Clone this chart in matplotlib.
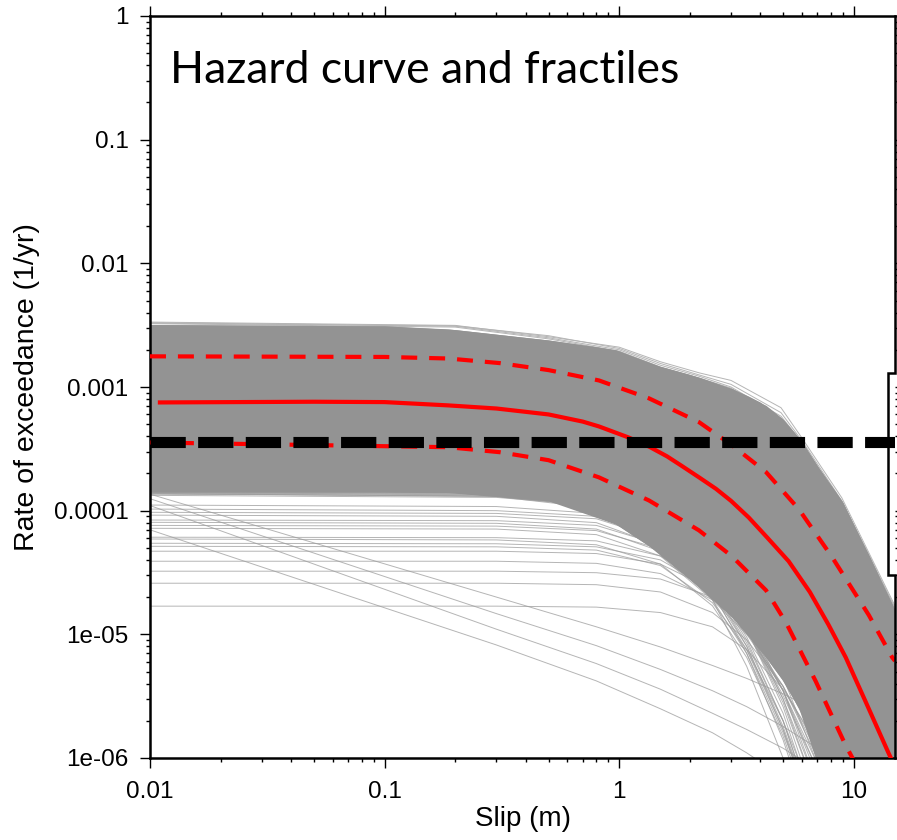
import matplotlib
matplotlib.use("Agg")
import matplotlib.pyplot as plt
from matplotlib.lines import Line2D
from matplotlib.ticker import FixedLocator, NullFormatter

plt.rcParams['lines.scale_dashes'] = False

# ---------------- data ----------------
# dense band of hazard curves (envelope of the many grey curves)
band_x = [0.01, 0.1, 0.187, 0.5, 0.97, 1.34, 2.19, 3.03, 4.23, 4.94, 5.83, 7.0, 8.9, 11.6, 15.0]
band_hi = [3.2e-3, 3.12e-3, 2.95e-3, 2.4e-3, 2.0e-3, 1.55e-3, 1.2e-3, 9.7e-4, 7.1e-4, 5.6e-4,
           3.9e-4, 2.3e-4, 1.2e-4, 4.4e-5, 1.57e-5]
band_lo_x = [0.01, 0.1, 0.2, 0.5, 0.8, 1.0, 1.5, 2.0, 3.0, 3.57, 4.0, 5.0, 6.0, 7.0, 9.0, 15.0]
band_lo = [1.42e-4, 1.42e-4, 1.4e-4, 1.2e-4, 9.6e-5, 7.5e-5, 4.5e-5, 2.8e-5, 1.4e-5, 1.0e-5,
           7.5e-6, 4.2e-6, 2.3e-6, 9e-7, 2e-7, 1e-8]

# outer curves along the upper edge of the band
upper_x = [0.01, 0.2, 0.5, 1.0, 1.5, 2.2, 3.0, 4.9, 6.0, 8.9, 15.0]
upper_curves = [
    [3.35e-3, 3.15e-3, 2.55e-3, 2.1e-3, 1.6e-3, 1.3e-3, 1.13e-3, 6.8e-4, 3.9e-4, 1.27e-4, 1.7e-5],
    [3.31e-3, 3.12e-3, 2.6e-3, 2.05e-3, 1.55e-3, 1.25e-3, 1.05e-3, 6.2e-4, 3.7e-4, 1.2e-4, 1.65e-5],
    [3.28e-3, 3.1e-3, 2.5e-3, 2.0e-3, 1.5e-3, 1.22e-3, 1.0e-3, 5.8e-4, 3.6e-4, 1.15e-4, 1.6e-5],
    [3.25e-3, 3.05e-3, 2.45e-3, 1.95e-3, 1.45e-3, 1.18e-3, 9.8e-4, 5.5e-4, 3.5e-4, 1.12e-4, 1.6e-5],
]

# individual curves below the band
low_x = [0.01, 0.3, 0.8, 1.5, 2.5, 3.5, 5.0, 7.0, 10.0, 15.0]
flat_curves = [
    [1.33e-4, 1.28e-4, 1.1e-4, 6.5e-5, 2.8e-5, 1.1e-5, 3.0e-6, 6e-7, 1e-7, 1e-8],
    [1.11e-4, 1.08e-4, 9.5e-5, 6.0e-5, 2.7e-5, 1.1e-5, 2.8e-6, 5e-7, 1e-7, 1e-8],
    [1.03e-4, 1.0e-4, 9.0e-5, 5.8e-5, 2.4e-5, 8.5e-6, 2.0e-6, 3e-7, 1e-7, 1e-8],
    [9.7e-5, 9.5e-5, 8.6e-5, 5.9e-5, 2.9e-5, 1.2e-5, 3.5e-6, 7e-7, 1e-7, 1e-8],
    [9.2e-5, 9.0e-5, 8.0e-5, 5.2e-5, 2.2e-5, 8.0e-6, 1.8e-6, 3e-7, 1e-7, 1e-8],
    [8.4e-5, 8.3e-5, 7.6e-5, 5.3e-5, 2.6e-5, 1.1e-5, 3.2e-6, 8e-7, 1e-7, 1e-8],
    [8.05e-5, 7.9e-5, 7.1e-5, 4.7e-5, 2.1e-5, 7.5e-6, 1.7e-6, 3e-7, 1e-7, 1e-8],
    [7.6e-5, 7.5e-5, 6.9e-5, 4.9e-5, 2.5e-5, 1.1e-5, 3.5e-6, 9e-7, 1e-7, 1e-8],
    [7.2e-5, 7.1e-5, 6.4e-5, 4.3e-5, 1.9e-5, 7.0e-6, 1.6e-6, 3e-7, 1e-7, 1e-8],
    [6.1e-5, 6.05e-5, 5.7e-5, 4.3e-5, 2.4e-5, 1.1e-5, 3.8e-6, 1e-6, 2e-7, 1e-8],
    [5.9e-5, 5.8e-5, 5.3e-5, 3.7e-5, 1.7e-5, 6.5e-6, 1.5e-6, 2.5e-7, 1e-7, 1e-8],
    [5.45e-5, 5.4e-5, 5.1e-5, 4.0e-5, 2.3e-5, 1.1e-5, 3.5e-6, 8e-7, 1e-7, 1e-8],
    [5.15e-5, 5.1e-5, 4.8e-5, 3.6e-5, 1.8e-5, 7.5e-6, 2.0e-6, 4e-7, 1e-7, 1e-8],
    [4.7e-5, 4.7e-5, 4.5e-5, 3.7e-5, 2.3e-5, 1.2e-5, 4.5e-6, 1.3e-6, 2e-7, 1e-8],
    [3.9e-5, 3.9e-5, 3.75e-5, 3.1e-5, 1.9e-5, 1.0e-5, 3.8e-6, 1.1e-6, 2e-7, 1e-8],
    [3.24e-5, 3.24e-5, 3.15e-5, 2.8e-5, 2.0e-5, 1.25e-5, 5.5e-6, 1.8e-6, 4e-7, 1e-8],
    [2.59e-5, 2.59e-5, 2.52e-5, 2.2e-5, 1.5e-5, 9.0e-6, 3.8e-6, 1.2e-6, 2.5e-7, 1e-8],
    [1.69e-5, 1.69e-5, 1.66e-5, 1.5e-5, 1.15e-5, 7.5e-6, 3.6e-6, 1.3e-6, 3e-7, 1e-8],
]
fan_curves = [
    [1.45e-4, 1.4e-4, 1.15e-4, 6.5e-5, 2.5e-5, 9.0e-6, 2.0e-6, 3e-7, 1e-8, 1e-9],
    [1.42e-4, 1.38e-4, 1.2e-4, 7.5e-5, 3.2e-5, 1.3e-5, 3.5e-6, 6e-7, 1e-8, 1e-9],
    [1.4e-4, 1.35e-4, 1.1e-4, 6.0e-5, 2.2e-5, 7.0e-6, 1.4e-6, 2e-7, 1e-8, 1e-9],
    [1.45e-4, 1.42e-4, 1.25e-4, 8.0e-5, 3.8e-5, 1.7e-5, 5.5e-6, 1.2e-6, 1e-7, 1e-9],
    [1.38e-4, 1.3e-4, 1.05e-4, 5.5e-5, 1.9e-5, 5.5e-6, 1.0e-6, 1.5e-7, 1e-8, 1e-9],
    [1.44e-4, 1.41e-4, 1.22e-4, 7.8e-5, 3.5e-5, 1.5e-5, 4.5e-6, 9e-7, 1e-8, 1e-9],
    [1.36e-4, 1.32e-4, 1.12e-4, 6.8e-5, 2.9e-5, 1.1e-5, 2.6e-6, 4e-7, 1e-8, 1e-9],
    [1.43e-4, 1.4e-4, 1.25e-4, 8.5e-5, 4.2e-5, 2.0e-5, 7.0e-6, 1.8e-6, 2e-7, 1e-9],
    [1.45e-4, 1.43e-4, 1.3e-4, 9.0e-5, 4.6e-5, 2.3e-5, 8.5e-6, 2.4e-6, 4e-7, 1e-9],
    [1.41e-4, 1.37e-4, 1.16e-4, 7.0e-5, 3.0e-5, 1.2e-5, 3.0e-6, 5e-7, 1e-8, 1e-9],
    [1.39e-4, 1.34e-4, 1.13e-4, 6.6e-5, 2.6e-5, 9.5e-6, 2.3e-6, 3.5e-7, 1e-8, 1e-9],
    [1.44e-4, 1.42e-4, 1.28e-4, 8.8e-5, 4.4e-5, 2.1e-5, 7.5e-6, 2.0e-6, 3e-7, 1e-9],
    [1.37e-4, 1.31e-4, 1.08e-4, 6.2e-5, 2.4e-5, 8.0e-6, 1.7e-6, 2.5e-7, 1e-8, 1e-9],
    [1.43e-4, 1.41e-4, 1.26e-4, 8.2e-5, 3.9e-5, 1.8e-5, 6.0e-6, 1.5e-6, 1.5e-7, 1e-9],
]
diag_curves = [
    [1.36e-4, 2.0e-5, 1.15e-5, 7.9e-6, 5.6e-6, 4.4e-6, 3.3e-6, 2.4e-6, 1.55e-6, 8.5e-7],
    [1.25e-4, 1.47e-5, 8.1e-6, 5.2e-6, 3.5e-6, 2.6e-6, 1.8e-6, 1.2e-6, 7.3e-7, 3.5e-7],
    [1.1e-4, 1.1e-5, 5.8e-6, 3.6e-6, 2.3e-6, 1.7e-6, 1.2e-6, 8e-7, 5e-7, 2.5e-7],
    [7.0e-5, 8.2e-6, 4.2e-6, 2.5e-6, 1.6e-6, 1.1e-6, 7e-7, 4e-7, 2e-7, 1e-7],
]

# fractiles and median
med_x = [0.0108, 0.05, 0.1, 0.187, 0.3, 0.5, 0.7, 0.82, 1.1, 1.34, 1.6, 1.85, 2.2, 2.59, 3.0,
         3.57, 4.3, 5.28, 6.5, 7.8, 9.25, 11.2, 14.1, 15.0]
med_y = [7.5e-4, 7.6e-4, 7.55e-4, 7.1e-4, 6.7e-4, 6.0e-4, 5.25e-4, 4.8e-4, 3.9e-4, 3.3e-4,
         2.75e-4, 2.3e-4, 1.85e-4, 1.5e-4, 1.2e-4, 8.8e-5, 6.0e-5, 3.9e-5, 2.2e-5, 1.2e-5,
         6.5e-6, 2.9e-6, 1.09e-6, 8.5e-7]
hi_x = [0.01, 0.1, 0.187, 0.31, 0.5, 0.82, 1.34, 2.19, 3.03, 4.23, 5.83, 8.05, 11.6, 14.6, 15.0]
hi_y = [1.77e-3, 1.75e-3, 1.7e-3, 1.56e-3, 1.37e-3, 1.13e-3, 8.1e-4, 5.2e-4, 3.38e-4, 2.05e-4,
        1.03e-4, 4.27e-5, 1.43e-5, 6.5e-6, 6.1e-6]
lo_x = [0.01, 0.187, 0.31, 0.5, 0.82, 1.34, 2.19, 3.03, 4.23, 5.14, 6.89, 9.25, 10.0]
lo_y = [3.56e-4, 3.26e-4, 2.97e-4, 2.56e-4, 1.86e-4, 1.21e-4, 6.93e-5, 4.27e-5, 2.27e-5,
        1.25e-5, 4.17e-6, 1.26e-6, 9.6e-7]

threshold = 3.57e-4

x_ticks = [0.01, 0.1, 1, 10]
x_labels = ["0.01", "0.1", "1", "10"]
y_ticks = [1e-6, 1e-5, 1e-4, 1e-3, 1e-2, 1e-1, 1]
y_labels = ["1e-06", "1e-05", "0.0001", "0.001", "0.01", "0.1", "1"]

# ---------------- figure ----------------
W, H = 897, 840
fig = plt.figure(figsize=(W / 100, H / 100), dpi=100)
L, R, T, B = 150, 895, 16, 758
ax = fig.add_axes([L / W, 1 - B / H, (R - L) / W, (B - T) / H])
ax.set_xscale('log')
ax.set_yscale('log')
ax.set_xlim(0.01, 15)
ax.set_ylim(1e-6, 1)

grey_dense = '#939393'
grey_line = '#9c9c9c'

import numpy as np
lo_interp = np.interp(np.log10(band_x), np.log10(band_lo_x), np.log10(band_lo))
ax.fill_between(band_x, 10 ** lo_interp, band_hi, color=grey_dense, lw=0, zorder=2)
ax.fill_between(band_lo_x, band_lo, np.interp(np.log10(band_lo_x), np.log10(band_x),
                band_hi), color=grey_dense, lw=0, zorder=2)
for c in upper_curves:
    ax.plot(upper_x, c, color='#b5b5b5', lw=0.7, zorder=1.5)
for c in flat_curves + fan_curves + diag_curves:
    ax.plot(low_x, c, color=grey_line, lw=0.7, alpha=0.75, zorder=1.8)

ax.plot(hi_x, hi_y, color='red', lw=3, dashes=(11.5, 8.6), zorder=4)
ax.plot(lo_x, lo_y, color='red', lw=3, dashes=(11.5, 8.6), zorder=4)
ax.plot(med_x, med_y, color='red', lw=3, solid_capstyle='butt', zorder=4)
ax.plot([0.01, 15], [threshold, threshold], color='black', lw=8,
        dashes=(25.4, 8.9), dash_capstyle='butt', zorder=5)

# ticks
ax.xaxis.set_major_locator(FixedLocator(x_ticks))
ax.set_xticklabels(x_labels)
ax.yaxis.set_major_locator(FixedLocator(y_ticks))
ax.set_yticklabels(y_labels)
ax.xaxis.set_minor_formatter(NullFormatter())
ax.yaxis.set_minor_formatter(NullFormatter())
ax.tick_params(which='both', direction='out', top=True, right=True, width=1.0, color='black')
ax.tick_params(which='major', length=7.5)
ax.tick_params(which='minor', length=3.0)
ax.tick_params(axis='x', which='major', pad=9)
ax.tick_params(axis='y', which='major', pad=8)
for lab in ax.get_xticklabels() + ax.get_yticklabels():
    lab.set_fontfamily('Liberation Sans')
    lab.set_fontsize(17.5)

for s in ['left', 'bottom', 'top']:
    ax.spines[s].set_linewidth(1.8)
ax.spines['right'].set_visible(False)

# right border with its notch
def fx(px):
    return px / W
def fy(py):
    return 1 - py / H
fig.add_artist(Line2D([fx(895), fx(895), fx(888), fx(888), fx(895), fx(895)],
                      [fy(16), fy(373), fy(373), fy(575), fy(575), fy(758)],
                      color='black', lw=1.8, solid_joinstyle='miter'))

ax.set_xlabel('Slip (m)', fontfamily='Liberation Sans', fontsize=20, labelpad=2)
ax.set_ylabel('Rate of exceedance (1/yr)', fontfamily='Liberation Sans', fontsize=20.5,
              labelpad=10)

fig.text(fx(170), fy(83), 'Hazard curve and fractiles', fontfamily='Lato', fontsize=32,
         ha='left', va='baseline')

fig.savefig('out.png', dpi=100)
